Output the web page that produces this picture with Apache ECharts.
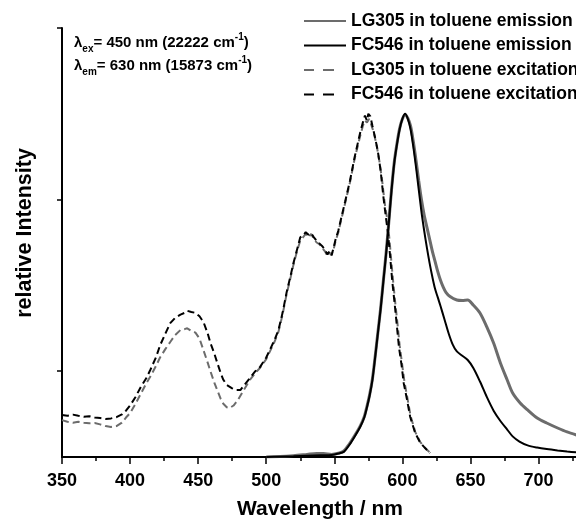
<!DOCTYPE html>
<html><head><meta charset="utf-8">
<script src="https://cdn.jsdelivr.net/npm/echarts@6/dist/echarts.min.js"></script>
<style>html,body{margin:0;padding:0;background:#fff}#c{width:576px;height:525px}</style>
</head><body><div id="c"></div>
<script>
const seriesNames = ['LG305 in toluene emission','FC546 in toluene emission','LG305 in toluene excitation','FC546 in toluene excitation'];
const xTickInterval = 50;
const yTickValues = [0.5, 1.5, 2.5];

const lgEmission = [[500,0],[510,0.003],[520,0.008],[530,0.015],[537,0.02],[542,0.02],[548,0.015],[553,0.022],[557,0.035],[561,0.075],[565,0.125],[569,0.18],[572,0.235],[574,0.295],[576,0.365],[578,0.455],[580,0.585],[582,0.725],[584,0.865],[586,1.025],[588,1.185],[590,1.365],[592,1.555],[594,1.715],[596,1.825],[598,1.915],[600,1.97],[602,1.995],[604,1.975],[606,1.93],[608,1.84],[610,1.73],[612,1.61],[614,1.5],[616,1.41],[618,1.34],[620,1.27],[622,1.2],[624,1.14],[626,1.08],[628,1.03],[630,0.99],[632,0.96],[635,0.935],[640,0.915],[644,0.912],[648,0.915],[652,0.886],[657,0.839],[662,0.758],[667,0.664],[672,0.548],[677,0.449],[681,0.373],[686.5,0.315],[692,0.274],[699,0.227],[706,0.198],[714,0.169],[721,0.146],[728,0.128]];

const fcEmission = [[500,0],[510,0.002],[520,0.004],[530,0.007],[540,0.01],[548,0.012],[553,0.02],[557,0.03],[561,0.07],[565,0.12],[569,0.175],[572,0.23],[574,0.29],[576,0.36],[578,0.45],[580,0.58],[582,0.72],[584,0.86],[586,1.02],[588,1.18],[590,1.36],[592,1.55],[594,1.71],[596,1.82],[598,1.91],[600,1.97],[602,2.0],[604,1.97],[606,1.91],[608,1.81],[610,1.69],[612,1.56],[614,1.43],[616,1.32],[618,1.22],[620,1.13],[622,1.05],[624,0.98],[626,0.93],[628,0.88],[631,0.8],[634,0.72],[637,0.655],[640,0.615],[644,0.59],[648,0.565],[652,0.52],[657,0.44],[662,0.35],[667,0.27],[672,0.21],[677,0.16],[681,0.12],[686,0.09],[692,0.068],[699,0.055],[706,0.046],[714,0.038],[721,0.032],[728,0.027]];

const lgExcitation = [[350,0.215],[354,0.205],[358,0.2],[362,0.205],[366,0.2],[370,0.196],[374,0.198],[378,0.19],[382,0.18],[386,0.175],[390,0.18],[394,0.2],[397,0.23],[400,0.255],[404,0.31],[408,0.37],[412,0.43],[415,0.47],[419,0.53],[422,0.58],[426,0.63],[429.5,0.67],[433,0.71],[437,0.74],[440,0.745],[442,0.75],[445,0.735],[448,0.725],[451,0.69],[454,0.62],[457,0.55],[459,0.5],[462,0.43],[464,0.39],[466.5,0.34],[468.5,0.31],[471,0.29],[473,0.285],[476,0.3],[479,0.33],[482,0.37],[485,0.41],[488,0.45],[492,0.49],[495.5,0.52],[500,0.57],[503,0.62],[506,0.67],[509,0.73],[512,0.83],[515,0.95],[518,1.05],[520,1.12],[523,1.21],[525,1.26],[527,1.28],[529,1.3],[531,1.28],[533,1.3],[535,1.27],[537,1.25],[539,1.24],[541,1.22],[543,1.2],[545,1.17],[546.5,1.19],[548,1.18],[549.5,1.21],[551,1.26],[553,1.31],[555,1.38],[558,1.48],[561.5,1.6],[565,1.74],[569,1.87],[571,1.93],[572.5,1.96],[574,1.95],[575.5,1.97],[577,1.94],[579,1.89],[581,1.82],[583,1.73],[585,1.62],[587,1.48],[589,1.38],[590.5,1.27],[592,1.13],[593.5,1.0],[595,0.88],[596.5,0.77],[598,0.65],[600,0.53],[601.5,0.44],[604,0.33],[606,0.24],[609.5,0.145],[613,0.088],[617,0.05],[620.5,0.025]];

const fcExcitation = [[350,0.245],[354,0.24],[358,0.247],[362,0.24],[366,0.235],[370,0.238],[374,0.23],[378,0.227],[382,0.222],[386,0.225],[390,0.232],[394,0.248],[397,0.27],[400,0.3],[404,0.35],[408,0.41],[412,0.46],[415,0.51],[419,0.58],[422,0.65],[426,0.72],[429.5,0.78],[433,0.81],[437,0.83],[440,0.84],[442,0.852],[445,0.845],[448,0.84],[451,0.82],[454,0.785],[457,0.72],[459,0.665],[462,0.6],[464,0.55],[466.5,0.49],[468.5,0.45],[471,0.42],[475,0.4],[478,0.39],[481,0.39],[484,0.42],[488,0.46],[492,0.5],[495.5,0.525],[500,0.58],[503,0.63],[506,0.68],[509,0.74],[512,0.84],[515,0.96],[518,1.06],[520,1.13],[523,1.22],[525,1.28],[527,1.29],[529,1.31],[531,1.295],[533,1.305],[535,1.28],[537,1.26],[539,1.245],[541,1.23],[543,1.21],[545,1.18],[546.5,1.2],[548,1.175],[549.5,1.22],[551,1.27],[553,1.32],[555,1.39],[558,1.49],[561.5,1.61],[565,1.75],[569,1.89],[571,1.95],[572.5,1.99],[574,1.96],[575,2.0],[576.5,1.985],[578,1.93],[580,1.86],[582,1.78],[584,1.67],[586,1.52],[588,1.39],[589.5,1.3],[591,1.17],[592.5,1.03],[594.5,0.88],[596,0.76],[597.5,0.64],[599.5,0.53],[601,0.43],[603.5,0.33],[605.7,0.235],[609.4,0.14],[613,0.085],[616.7,0.052],[620.4,0.023]];

const FONT = '"Liberation Sans", Arial, Helvetica, sans-serif';
const GRAY = '#6c6c6c';

const chart = echarts.init(document.getElementById('c'), null, {renderer: 'canvas'});
chart.setOption({
  animation: false,
  backgroundColor: '#fff',
  grid: {left: 62, right: -30.6, top: 28, bottom: 68, containLabel: false, outerBoundsMode: 'none'},
  xAxis: {
    type: 'value', min: 350, max: 750, interval: xTickInterval,
    axisLine: {show: true, onZero: false, lineStyle: {color: '#000', width: 2}},
    axisTick: {show: true, length: 7, lineStyle: {color: '#000', width: 1.5}},
    minorTick: {show: true, splitNumber: 2, length: 4, lineStyle: {color: '#000', width: 1.5}},
    axisLabel: {color: '#000', fontSize: 18, fontWeight: 'bold', fontFamily: FONT, margin: 15},
    splitLine: {show: false}
  },
  yAxis: {
    type: 'value', min: 0, max: 2.5,
    axisLine: {show: true, onZero: false, lineStyle: {color: '#000', width: 2}},
    axisTick: {show: true, length: 5, customValues: yTickValues, lineStyle: {color: '#000', width: 1.5}},
    axisLabel: {show: false},
    splitLine: {show: false}
  },
  legend: {
    orient: 'vertical', left: 303, top: 12, padding: 0, itemWidth: 42, itemHeight: 14, itemGap: 6.5,
    selectedMode: false,
    itemStyle: {opacity: 0},
    textStyle: {fontSize: 17.5, fontWeight: 'bold', fontFamily: FONT, color: '#000', lineHeight: 17},
    data: [
      {name: seriesNames[0], lineStyle: {width: 2}, itemStyle: {opacity: 0}},
      {name: seriesNames[1], lineStyle: {width: 2}, itemStyle: {opacity: 0}},
      {name: seriesNames[2], lineStyle: {type: [10, 9, 11, 20], width: 2}, itemStyle: {opacity: 0}},
      {name: seriesNames[3], lineStyle: {type: [10, 9, 11, 20], width: 2}, itemStyle: {opacity: 0}}
    ]
  },
  graphic: [
    {type: 'text', left: 74, top: 32, style: {
      text: '{m|λ}{s|ex}{m|= 450 nm (22222 cm}{p|-1}{m|)}',
      rich: {
        m: {fontSize: 15, fontWeight: 'bold', fontFamily: FONT, fill: '#000', lineHeight: 22},
        s: {fontSize: 10, fontWeight: 'bold', fontFamily: FONT, fill: '#000', lineHeight: 10, verticalAlign: 'bottom'},
        p: {fontSize: 10, fontWeight: 'bold', fontFamily: FONT, fill: '#000', lineHeight: 10, verticalAlign: 'top'}
      }
    }},
    {type: 'text', left: 74, top: 55, style: {
      text: '{m|λ}{s|em}{m|= 630 nm (15873 cm}{p|-1}{m|)}',
      rich: {
        m: {fontSize: 15, fontWeight: 'bold', fontFamily: FONT, fill: '#000', lineHeight: 22},
        s: {fontSize: 10, fontWeight: 'bold', fontFamily: FONT, fill: '#000', lineHeight: 10, verticalAlign: 'bottom'},
        p: {fontSize: 10, fontWeight: 'bold', fontFamily: FONT, fill: '#000', lineHeight: 10, verticalAlign: 'top'}
      }
    }},
    {type: 'text', x: 320, y: 509, style: {
      text: 'Wavelength / nm', fontSize: 21, fontWeight: 'bold', fontFamily: FONT, fill: '#000',
      align: 'center', verticalAlign: 'middle'
    }},
    {type: 'text', x: 25, y: 233, rotation: Math.PI / 2, style: {
      text: 'relative Intensity', fontSize: 21.5, fontWeight: 'bold', fontFamily: FONT, fill: '#000',
      align: 'center', verticalAlign: 'middle'
    }}
  ],
  series: [
    {name: seriesNames[0], type: 'line', data: lgEmission, symbol: 'none', smooth: 0.3,
     lineStyle: {color: GRAY, width: 3}, itemStyle: {color: GRAY}, z: 2},
    {name: seriesNames[1], type: 'line', data: fcEmission, symbol: 'none', smooth: 0.3,
     lineStyle: {color: '#000', width: 2}, itemStyle: {color: '#000'}, z: 3},
    {name: seriesNames[2], type: 'line', data: lgExcitation, symbol: 'none',
     lineStyle: {color: GRAY, width: 2, type: [7, 4]}, itemStyle: {color: GRAY}, z: 2},
    {name: seriesNames[3], type: 'line', data: fcExcitation, symbol: 'none',
     lineStyle: {color: '#000', width: 2, type: [7, 4]}, itemStyle: {color: '#000'}, z: 3}
  ]
});
</script>
</body></html>
